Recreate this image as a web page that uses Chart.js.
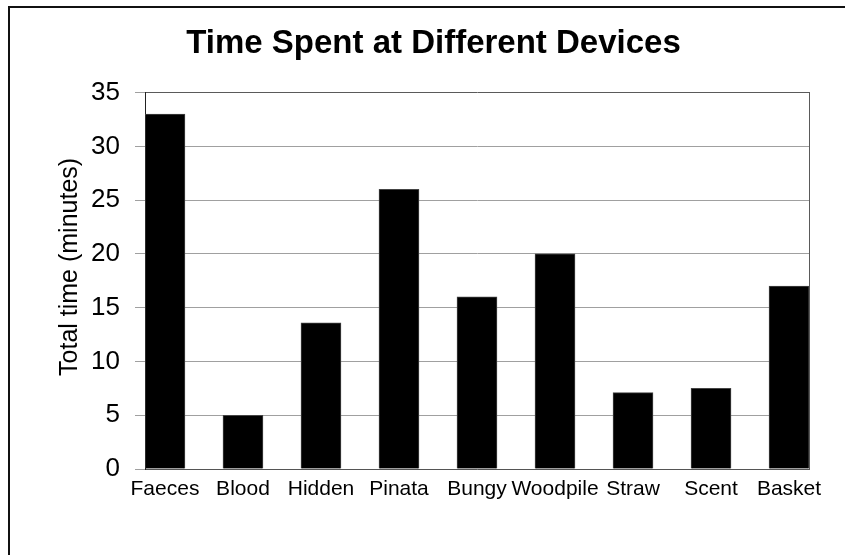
<!DOCTYPE html>
<html>
<head>
<meta charset="utf-8">
<script src="https://cdn.jsdelivr.net/npm/chart.js@4/dist/chart.umd.min.js"></script>
<style>
  html, body { margin: 0; padding: 0; background: #fff; overflow: hidden; }
  #chart { display: block; }
</style>
</head>
<body>
<canvas id="chart" width="845" height="555"></canvas>
<script>
const devices = ["Faeces", "Blood", "Hidden", "Pinata", "Bungy", "Woodpile", "Straw", "Scent", "Basket"];
const minutes = [33, 5, 13.6, 26, 16, 20, 7.1, 7.5, 17];
const yMax = 35;

const FONT = "'Liberation Sans', Arial, sans-serif";

// cropped outer frame: only the left and top edges show
const framePlugin = {
  id: "frame",
  afterDraw(chart) {
    const { ctx, width, height } = chart;
    ctx.save();
    ctx.strokeStyle = "#111";
    ctx.lineWidth = 2;
    ctx.beginPath();
    ctx.moveTo(9, height);
    ctx.lineTo(9, 7);
    ctx.lineTo(width, 7);
    ctx.stroke();
    ctx.restore();
  },
};

new Chart(document.getElementById("chart"), {
  type: "bar",
  data: {
    datasets: [
      {
        data: minutes.map((v, i) => ({ x: i, y: v })),
        backgroundColor: "#000000",
        borderColor: "#444444",
        borderWidth: 1,
        barThickness: 40,
      },
    ],
  },
  plugins: [framePlugin],
  options: {
    responsive: false,
    animation: false,
    layout: { padding: { left: 58, right: 36, top: 0, bottom: 0 } },
    plugins: {
      legend: { display: false },
      tooltip: { enabled: false },
      title: {
        display: true,
        text: "Time Spent at Different Devices",
        color: "#000",
        font: { family: FONT, size: 33, weight: "bold", lineHeight: 1.2 },
        padding: { top: 24, bottom: 29 },
      },
    },
    scales: {
      x: {
        type: "linear",
        offset: false,
        min: -0.256,
        max: devices.length - 1 + 0.256,
        grid: { display: false, drawTicks: false },
        border: { display: true, color: "#555", width: 1 },
        ticks: {
          stepSize: 1,
          includeBounds: false,
          autoSkip: false,
          maxRotation: 0,
          padding: 8,
          color: "#000",
          font: { family: FONT, size: 21 },
          callback: (v) => devices[v] ?? "",
        },
        afterFit: (s) => { s.height = 86; },
      },
      y: {
        min: 0,
        max: yMax,
        grid: {
          color: (c) => (c.tick.value === yMax ? "#5a5a5a" : c.tick.value % 5 === 0 ? "#a0a0a0" : "rgba(0,0,0,0)"),
          tickColor: "#a0a0a0",
          tickLength: 10,
        },
        border: { display: true, color: "#222", width: 1 },
        ticks: {
          stepSize: 2.5,
          padding: 15,
          color: "#000",
          font: { family: FONT, size: 26 },
          callback: (v) => (v % 5 === 0 ? String(v) : ""),
        },
        title: {
          display: true,
          text: "\u00a0\u00a0\u00a0\u00a0Total time (minutes)",
          color: "#000",
          font: { family: FONT, size: 25, lineHeight: 1 },
          padding: 0,
        },
        afterFit: (s) => { s.width = 87; },
      },
      y2: {
        position: "right",
        min: 0,
        max: yMax,
        grid: { drawOnChartArea: false, drawTicks: false },
        border: { display: true, color: "#5a5a5a", width: 1 },
        ticks: { display: false },
        afterFit: (s) => { s.width = 0; },
      },
    },
  },
});
</script>
</body>
</html>
